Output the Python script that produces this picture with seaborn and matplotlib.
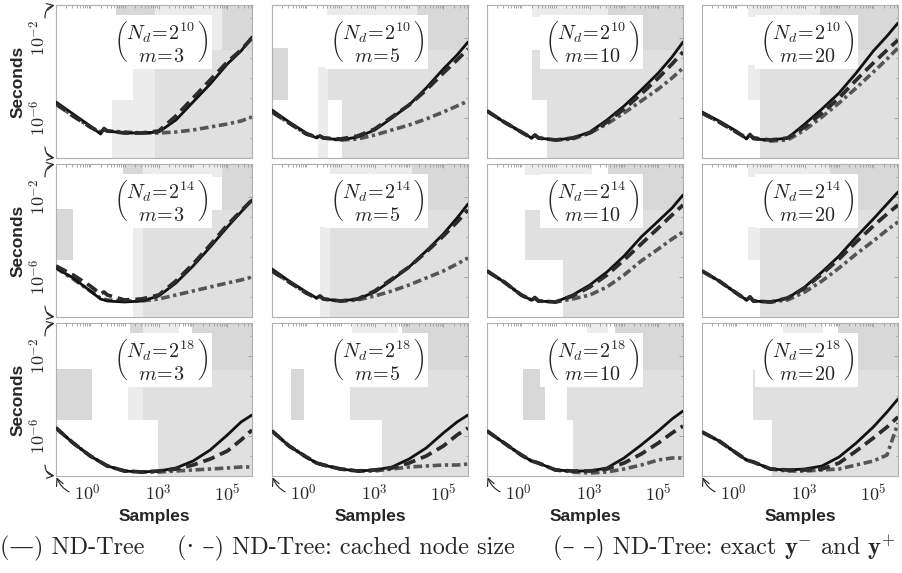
import numpy as np
import pandas as pd
import matplotlib
matplotlib.use("Agg")
import matplotlib.pyplot as plt
from matplotlib.ticker import FixedLocator, FixedFormatter, LogLocator, NullFormatter
import seaborn as sns

# ---------------- data (log10 samples, log10 seconds) ----------------
LOG_SAMPLES = [0, 0.5, 1.0, 1.3, 1.4, 1.5, 2.0, 2.5, 3.0, 3.5, 4.0, 4.5, 5.0, 5.4, 5.72]
ND_EXPONENTS = [10, 14, 18]
M_VALUES = [3, 5, 10, 20]

# N_d = 2^10
SOLID_N10_M3 = [-5.20, -5.80, -6.40, -6.80, -6.50, -6.65, -6.75, -6.75, -6.70, -6.10, -5.20, -4.30, -3.30, -2.65, -1.95]
EXACT_N10_M3 = [-5.30, -5.90, -6.45, -6.75, -6.55, -6.65, -6.75, -6.75, -6.65, -5.90, -5.00, -4.10, -3.20, -2.60, -2.00]
CACHED_N10_M3 = [-5.30, -5.90, -6.45, -6.70, -6.60, -6.65, -6.70, -6.75, -6.75, -6.70, -6.60, -6.45, -6.30, -6.15, -5.95]

SOLID_N10_M5 = [-5.60, -6.20, -6.75, -7.00, -6.90, -7.00, -7.10, -6.95, -6.60, -6.00, -5.35, -4.50, -3.55, -2.85, -2.20]
EXACT_N10_M5 = [-5.70, -6.25, -6.80, -6.95, -6.90, -7.00, -7.05, -6.90, -6.55, -5.95, -5.35, -4.60, -3.75, -3.10, -2.55]
CACHED_N10_M5 = [-5.70, -6.25, -6.80, -6.95, -6.90, -7.00, -7.10, -7.05, -6.85, -6.60, -6.35, -6.05, -5.70, -5.40, -5.15]

SOLID_N10_M10 = [-5.65, -6.20, -6.70, -7.00, -6.85, -7.00, -7.10, -7.00, -6.70, -6.10, -5.40, -4.60, -3.75, -2.95, -2.20]
EXACT_N10_M10 = [-5.65, -6.20, -6.70, -7.00, -6.85, -7.00, -7.10, -7.00, -6.75, -6.20, -5.55, -4.80, -4.00, -3.30, -2.70]
CACHED_N10_M10 = [-5.65, -6.20, -6.70, -7.00, -6.85, -7.00, -7.10, -7.05, -6.75, -6.30, -5.75, -5.15, -4.55, -4.00, -3.50]

SOLID_N10_M20 = [-5.70, -6.15, -6.65, -7.05, -6.80, -7.05, -7.10, -7.00, -6.30, -5.55, -4.75, -3.75, -2.65, -1.90, -1.25]
EXACT_N10_M20 = [-5.75, -6.20, -6.70, -7.00, -6.85, -7.00, -7.10, -7.00, -6.45, -5.75, -5.00, -4.10, -3.25, -2.60, -2.10]
CACHED_N10_M20 = [-5.75, -6.20, -6.70, -7.00, -6.85, -7.00, -7.15, -7.10, -6.60, -5.95, -5.25, -4.50, -3.70, -3.05, -2.50]

# N_d = 2^14
SOLID_N14_M3 = [-5.55, -6.05, -6.70, -7.10, -7.15, -7.20, -7.25, -7.20, -6.95, -6.30, -5.45, -4.50, -3.50, -2.75, -2.15]
EXACT_N14_M3 = [-5.45, -5.90, -6.45, -6.85, -6.75, -6.90, -7.15, -7.10, -6.90, -6.20, -5.35, -4.40, -3.40, -2.70, -2.15]
CACHED_N14_M3 = [-5.55, -6.10, -6.70, -7.05, -7.10, -7.15, -7.20, -7.20, -7.10, -6.90, -6.70, -6.50, -6.30, -6.15, -6.00]

SOLID_N14_M5 = [-5.60, -6.20, -6.75, -7.05, -6.95, -7.10, -7.20, -7.10, -6.75, -6.15, -5.50, -4.70, -3.85, -3.05, -2.35]
EXACT_N14_M5 = [-5.70, -6.25, -6.80, -7.05, -6.95, -7.10, -7.20, -7.10, -6.70, -6.10, -5.50, -4.75, -3.95, -3.25, -2.65]
CACHED_N14_M5 = [-5.70, -6.25, -6.80, -7.05, -6.95, -7.10, -7.20, -7.15, -6.95, -6.70, -6.40, -6.05, -5.70, -5.35, -5.05]

SOLID_N14_M10 = [-5.70, -6.25, -6.90, -7.15, -7.00, -7.20, -7.25, -6.90, -6.40, -5.75, -4.95, -4.00, -3.20, -2.55, -1.90]
EXACT_N14_M10 = [-5.70, -6.25, -6.90, -7.15, -7.05, -7.20, -7.25, -6.95, -6.50, -5.90, -5.15, -4.35, -3.55, -2.90, -2.40]
CACHED_N14_M10 = [-5.70, -6.25, -6.90, -7.15, -7.05, -7.20, -7.25, -7.10, -6.90, -6.50, -5.90, -5.20, -4.60, -4.10, -3.75]

SOLID_N14_M20 = [-5.70, -6.20, -6.80, -7.15, -7.00, -7.20, -7.25, -7.05, -6.50, -5.75, -4.95, -4.00, -3.10, -2.35, -1.75]
EXACT_N14_M20 = [-5.70, -6.20, -6.80, -7.15, -7.00, -7.20, -7.25, -7.05, -6.55, -5.85, -5.10, -4.25, -3.45, -2.85, -2.40]
CACHED_N14_M20 = [-5.70, -6.20, -6.80, -7.15, -7.00, -7.20, -7.25, -7.15, -6.75, -6.20, -5.55, -4.85, -4.20, -3.65, -3.25]

# N_d = 2^18
SOLID_N18_M3 = [-5.60, -6.35, -7.00, -7.30, -7.40, -7.50, -7.75, -7.80, -7.75, -7.60, -7.25, -6.70, -5.95, -5.30, -4.95]
EXACT_N18_M3 = [-5.60, -6.35, -7.00, -7.30, -7.40, -7.50, -7.75, -7.80, -7.75, -7.65, -7.45, -7.15, -6.75, -6.20, -5.70]
CACHED_N18_M3 = [-5.60, -6.35, -7.00, -7.30, -7.40, -7.50, -7.75, -7.80, -7.80, -7.75, -7.70, -7.65, -7.60, -7.55, -7.55]

SOLID_N18_M5 = [-5.75, -6.50, -7.05, -7.35, -7.40, -7.45, -7.65, -7.75, -7.70, -7.55, -7.15, -6.60, -5.85, -5.30, -4.95]
EXACT_N18_M5 = [-5.75, -6.50, -7.05, -7.35, -7.40, -7.45, -7.65, -7.75, -7.70, -7.60, -7.35, -7.00, -6.50, -5.95, -5.60]
CACHED_N18_M5 = [-5.75, -6.50, -7.05, -7.35, -7.40, -7.45, -7.65, -7.75, -7.75, -7.65, -7.55, -7.50, -7.45, -7.45, -7.40]

SOLID_N18_M10 = [-5.75, -6.35, -6.95, -7.25, -7.30, -7.35, -7.70, -7.75, -7.75, -7.60, -7.10, -6.45, -5.75, -5.15, -4.75]
EXACT_N18_M10 = [-5.75, -6.35, -6.95, -7.25, -7.30, -7.35, -7.70, -7.75, -7.75, -7.65, -7.35, -6.90, -6.35, -5.85, -5.50]
CACHED_N18_M10 = [-5.75, -6.35, -6.95, -7.25, -7.30, -7.35, -7.70, -7.80, -7.85, -7.80, -7.65, -7.45, -7.20, -7.10, -7.10]

SOLID_N18_M20 = [-5.80, -6.25, -6.85, -7.20, -7.25, -7.30, -7.65, -7.70, -7.65, -7.50, -7.05, -6.35, -5.55, -4.80, -4.15]
EXACT_N18_M20 = [-5.80, -6.25, -6.85, -7.20, -7.25, -7.30, -7.65, -7.70, -7.70, -7.65, -7.35, -6.75, -6.10, -5.55, -5.05]
CACHED_N18_M20 = [-5.80, -6.25, -6.85, -7.20, -7.25, -7.30, -7.65, -7.75, -7.75, -7.70, -7.65, -7.45, -7.25, -6.95, -5.35]

# background regions: (log10 x0, log10 x1, log10 y0, log10 y1, shade)
BG_N10_M3 = [(1.75, 2.89, -0.95, -0.35, 'c'), (2.89, 4.84, -2.6, -0.35, 'a'), (4.84, 5.72, -2.6, -0.35, 'c'),
             (1.63, 2.25, -8.0, -5.1, 'a'), (2.25, 2.89, -8.0, -3.35, 'a'), (2.89, 5.72, -8.0, -2.6, 'b')]
BG_N10_M5 = [(0.0, 0.47, -5.1, -2.5, 'c'), (1.60, 4.23, -0.95, -0.35, 'a'), (4.23, 5.72, -2.6, -0.35, 'c'),
             (1.34, 1.63, -8.0, -3.45, 'a'), (1.63, 5.72, -5.1, -2.6, 'b'), (2.04, 5.72, -8.0, -5.1, 'b')]
BG_N10_M10 = [(1.31, 3.53, -0.95, -0.35, 'a'), (3.53, 5.72, -2.6, -0.35, 'c'), (1.31, 5.72, -5.1, -2.6, 'b'),
              (1.75, 5.72, -8.0, -5.1, 'b')]
BG_N10_M20 = [(1.34, 3.44, -0.95, -0.35, 'a'), (3.44, 5.72, -2.6, -0.35, 'c'), (1.34, 1.69, -5.1, -3.35, 'a'),
              (1.69, 5.72, -8.0, -2.6, 'b')]
BG_N14_M3 = [(0.03, 0.50, -5.15, -2.6, 'c'), (1.96, 2.54, -1.0, -0.35, 'c'), (2.54, 4.84, -1.0, -0.35, 'a'),
             (4.84, 5.72, -2.65, -0.35, 'c'), (2.25, 2.54, -8.0, -3.5, 'a'), (2.54, 5.72, -8.0, -2.65, 'b')]
BG_N14_M5 = [(1.69, 4.09, -1.0, -0.35, 'a'), (4.09, 5.72, -2.65, -0.35, 'c'), (1.40, 1.69, -8.0, -3.5, 'a'),
             (1.69, 5.72, -8.0, -2.65, 'b')]
BG_N14_M10 = [(1.11, 3.06, -0.9, -0.35, 'a'), (3.53, 5.72, -2.65, -0.35, 'c'), (1.11, 5.72, -5.15, -2.65, 'b'),
              (2.22, 5.72, -8.0, -5.15, 'b')]
BG_N14_M20 = [(1.34, 3.74, -1.0, -0.35, 'a'), (3.74, 5.72, -2.65, -0.35, 'c'), (1.34, 1.69, -5.15, -3.5, 'a'),
              (1.69, 5.72, -8.0, -2.65, 'b')]
BG_N18_M3 = [(0.0, 1.05, -5.2, -2.65, 'c'), (2.16, 2.54, -1.05, -0.35, 'c'), (2.54, 3.59, -1.05, -0.35, 'a'),
             (3.97, 5.72, -2.7, -0.35, 'c'), (2.10, 2.54, -5.2, -3.55, 'a'), (2.54, 5.72, -5.2, -2.7, 'b'),
             (2.98, 5.72, -8.0, -5.2, 'b')]
BG_N18_M5 = [(0.55, 0.93, -5.2, -2.65, 'c'), (2.33, 3.68, -1.05, -0.35, 'a'), (3.79, 5.72, -2.7, -0.35, 'c'),
             (2.28, 5.72, -5.2, -2.7, 'b'), (3.21, 5.72, -8.0, -5.2, 'b')]
BG_N18_M10 = [(1.05, 1.69, -5.2, -2.65, 'c'), (2.92, 3.53, -1.05, -0.35, 'a'), (3.74, 5.72, -2.7, -0.35, 'c'),
              (2.33, 5.72, -5.2, -2.7, 'b'), (2.51, 5.72, -8.0, -5.2, 'b')]
BG_N18_M20 = [(2.36, 3.53, -1.05, -0.35, 'a'), (3.97, 5.72, -2.7, -0.35, 'c'), (1.49, 5.72, -5.2, -2.7, 'b'),
              (2.04, 5.72, -8.0, -5.2, 'b')]

SHADES = {'a': '#ececec', 'b': '#e0e0e0', 'c': '#d8d8d8'}
LEGEND_LABELS = ['(—) ND-Tree', '(· –) ND-Tree: cached node size', '(– –) ND-Tree: exact ']

# ---------------- style ----------------
sns.set_theme(style="white")
plt.rcParams['mathtext.fontset'] = 'cm'
plt.rcParams['font.family'] = ['DejaVu Sans']

W, H = 903, 573
fig = plt.figure(figsize=(W / 100, H / 100), dpi=100)
COL_LEFT = [56, 272, 487, 702]
ROW_TOP = [5, 164, 323]
AX_W, AX_H = 196, 153

g = globals()
samples = 10 ** np.array(LOG_SAMPLES)
XMAX = 10 ** LOG_SAMPLES[-1]
YMIN, YMAX = 10 ** -8.0, 10 ** -0.35

for r, nd in enumerate(ND_EXPONENTS):
    for c, m in enumerate(M_VALUES):
        key = f"N{nd}_M{m}"
        ax = fig.add_axes([COL_LEFT[c] / W, 1 - (ROW_TOP[r] + AX_H) / H, AX_W / W, AX_H / H])
        ax.set_facecolor('white')
        ax.set_xscale('log')
        ax.set_yscale('log')
        for (x0, x1, y0, y1, s) in g['BG_' + key]:
            ax.fill_between([10 ** x0, 10 ** x1], 10 ** y0, 10 ** y1, color=SHADES[s], lw=0, zorder=0)

        df = pd.DataFrame({
            'Samples': samples,
            'solid': 10 ** np.array(g['SOLID_' + key]),
            'exact': 10 ** np.array(g['EXACT_' + key]),
            'cached': 10 ** np.array(g['CACHED_' + key]),
        })
        sns.lineplot(data=df, x='Samples', y='cached', ax=ax, color='#555555', linewidth=2.6,
                     linestyle=(0, (2.4, 1.0, 0.9, 1.0)), legend=False, sort=False, zorder=2)
        sns.lineplot(data=df, x='Samples', y='solid', ax=ax, color='#111111', linewidth=2.0,
                     legend=False, sort=False, zorder=3)
        sns.lineplot(data=df, x='Samples', y='exact', ax=ax, color='#2b2b2b', linewidth=2.7,
                     linestyle=(0, (3.2, 1.6)), legend=False, sort=False, zorder=4)

        ax.set_xlim(1, XMAX)
        ax.set_ylim(YMIN, YMAX)
        ax.set_xlabel('')
        ax.set_ylabel('')

        ax.xaxis.set_major_locator(FixedLocator([1e3, 1e5]))
        ax.xaxis.set_minor_locator(LogLocator(base=10, subs=np.arange(1, 10), numticks=30))
        ax.yaxis.set_major_locator(FixedLocator([1e-2, 1e-6]))
        ax.yaxis.set_minor_locator(LogLocator(base=10, subs=(1.0,), numticks=30))
        ax.xaxis.set_minor_formatter(NullFormatter())
        ax.yaxis.set_minor_formatter(NullFormatter())
        ax.tick_params(which='both', direction='in', top=True, right=True, color='#9a9a9a',
                       width=0.6)
        ax.tick_params(which='major', length=3)
        ax.tick_params(which='minor', length=1.8)
        for sp in ax.spines.values():
            sp.set_color('#b0b0b0')
            sp.set_linewidth(0.8)

        if c == 0:
            ax.yaxis.set_major_formatter(FixedFormatter([r'$10^{-2}$', r'$10^{-6}$']))
            ax.tick_params(axis='y', labelsize=13, pad=5, labelrotation=90)
            for lbl in ax.get_yticklabels():
                lbl.set_va('center')
            ax.annotate('', xy=(0, 1), xycoords='axes fraction', xytext=(-11, -13),
                        textcoords='offset pixels',
                        arrowprops=dict(arrowstyle='->', connectionstyle='arc3,rad=-0.45',
                                        color='#222222', lw=0.8, shrinkA=0, shrinkB=1))
            ax.annotate('', xy=(0, 0), xycoords='axes fraction', xytext=(-11, 11),
                        textcoords='offset pixels',
                        arrowprops=dict(arrowstyle='->', connectionstyle='arc3,rad=0.45',
                                        color='#222222', lw=0.8, shrinkA=0, shrinkB=1))
            fig.text(18 / W, 1 - (ROW_TOP[r] + AX_H / 2) / H, 'Seconds', rotation=90,
                     ha='center', va='center', fontweight='bold', family='Liberation Sans', size=12.5)
        else:
            ax.tick_params(axis='y', labelleft=False)

        if r == len(ND_EXPONENTS) - 1:
            ax.xaxis.set_major_formatter(FixedFormatter([r'$10^{3}$', r'$10^{5}$']))
            ax.tick_params(axis='x', labelsize=13, pad=6)
            ax.annotate(r'$10^{0}$', xy=(0, 0), xycoords='axes fraction', xytext=(31, -18),
                        textcoords='offset pixels', ha='center', va='center', fontsize=13,
                        arrowprops=dict(arrowstyle='->', connectionstyle='arc3,rad=-0.4',
                                        color='#222222', lw=0.8, shrinkA=1, shrinkB=1))
            fig.text((COL_LEFT[c] + AX_W / 2) / W, 1 - 517 / H, 'Samples', ha='center', va='center',
                     fontweight='bold', family='Liberation Sans', size=12.5)
        else:
            ax.tick_params(axis='x', labelbottom=False)

        ax.text(0.775, 0.76,
                r'$\genfrac{(}{)}{0}{0}{N_d\!=\!2^{%d}}{m\!=\!%d}$' % (nd, m),
                transform=ax.transAxes, ha='right', va='center', fontsize=14.5, zorder=1.5,
                bbox=dict(boxstyle='square,pad=0.22', fc='white', ec='none'))

# ---------------- legend line ----------------
LEG_Y = 1 - 548 / H
LEG_X = [0, 177, 553]
fam = ['cmr10', 'DejaVu Serif']
texts = []
for x, lab in zip(LEG_X, LEGEND_LABELS):
    texts.append(fig.text(x / W, LEG_Y, lab, family=fam, size=17.5, ha='left', va='center'))
fig.canvas.draw()
bb = texts[-1].get_window_extent(renderer=fig.canvas.get_renderer())
fig.text(bb.x1 / W, LEG_Y, r'$\mathbf{y}^{-}$ and $\mathbf{y}^{+}$', family='cmr10', size=17.5,
         ha='left', va='center')

fig.savefig('out.png', dpi=100)
